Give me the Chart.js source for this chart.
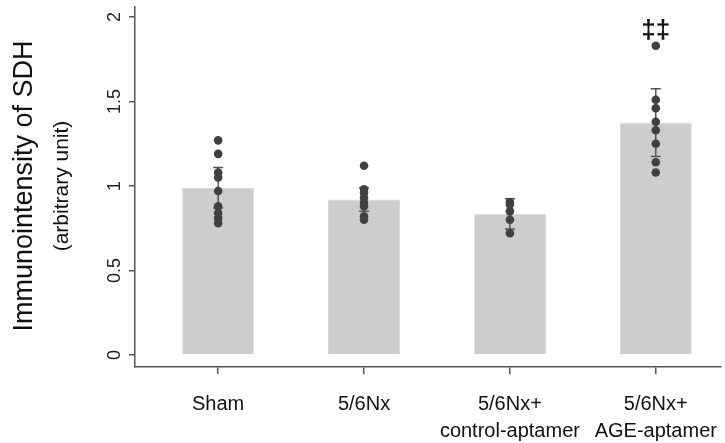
<!DOCTYPE html>
<html>
<head>
<meta charset="utf-8">
<script src="https://cdn.jsdelivr.net/npm/chart.js@4.4.1/dist/chart.umd.min.js"></script>
<style>
  body{margin:0;background:#fff}
  canvas{display:block}
</style>
</head>
<body>
<canvas id="sdh" width="725" height="443"></canvas>
<script>
const groupLabels=[['Sham'],['5/6Nx'],['5/6Nx+','control-aptamer'],['5/6Nx+','AGE-aptamer']]
const means=[0.99,0.92,0.835,1.375]
const sds=[0.12,0.07,0.09,0.20]
const shamDots=[1.27,1.19,1.08,1.05,0.97,0.88,0.84,0.81,0.78]
const nxDots=[1.12,0.98,0.96,0.93,0.90,0.88,0.82,0.80]
const ctrlDots=[0.905,0.89,0.85,0.80,0.72]
const ageDots=[1.83,1.51,1.46,1.38,1.33,1.25,1.14,1.08]
const sigMarks=['','','','‡‡']
const sigLevel=1.92
const yTicks=[0,0.5,1,1.5,2]

const FONT='"Liberation Sans", Arial, sans-serif'
const axisColor='#555'
const dotColor='#404040'

function dots(values,i){
    return values.map(v=>({x:i,y:v}))
}

// whiskers go under the dots but over the bar
const errorBars={
    id:'errorBars',
    afterDatasetDraw(chart,args){
        if(args.index!==4) return
        const ctx=chart.ctx
        const xs=chart.scales.x
        const ys=chart.scales.y
        ctx.save()
        ctx.strokeStyle=axisColor
        ctx.lineWidth=1.5
        means.forEach((m,i)=>{
            const x=xs.getPixelForValue(i)
            const top=ys.getPixelForValue(m+sds[i])
            const bot=ys.getPixelForValue(m-sds[i])
            ctx.beginPath()
            ctx.moveTo(x,top);ctx.lineTo(x,bot)
            ctx.moveTo(x-5,top);ctx.lineTo(x+5,top)
            ctx.moveTo(x-5,bot);ctx.lineTo(x+5,bot)
            ctx.stroke()
        })
        ctx.restore()
    }
}

const extras={
    id:'extras',
    afterDraw(chart){
        const ctx=chart.ctx
        const xs=chart.scales.x
        const ys=chart.scales.y
        ctx.save()
        ctx.fillStyle='#111'
        ctx.textAlign='center'
        ctx.textBaseline='middle'
        ctx.font='bold 26px '+FONT
        sigMarks.forEach((s,i)=>{
            if(s) ctx.fillText(s,xs.getPixelForValue(i),ys.getPixelForValue(sigLevel))
        })
        const mid=(ys.getPixelForValue(0)+ys.getPixelForValue(2))/2
        ctx.translate(25,mid)
        ctx.rotate(-Math.PI/2)
        ctx.font='27px '+FONT
        ctx.fillText('Immunointensity of SDH',0,0)
        ctx.font='21px '+FONT
        ctx.fillText('(arbitrary unit)',0,37)
        ctx.restore()
    }
}

new Chart(document.getElementById('sdh'),{
    type:'bar',
    data:{
        datasets:[
            {type:'scatter',data:dots(shamDots,0)},
            {type:'scatter',data:dots(nxDots,1)},
            {type:'scatter',data:dots(ctrlDots,2)},
            {type:'scatter',data:dots(ageDots,3)},
            {
                data:means.map((m,i)=>({x:i,y:m})),
                backgroundColor:'#cdcdcd',
                borderColor:'#d9d9d9',
                borderWidth:1,
                barPercentage:1,
                categoryPercentage:0.494
            }
        ]
    },
    options:{
        responsive:false,
        animation:false,
        layout:{padding:{top:7,right:0,bottom:0,left:0}},
        elements:{point:{radius:4.3,backgroundColor:dotColor,borderWidth:0,hoverRadius:4.3}},
        plugins:{legend:{display:false},tooltip:{enabled:false}},
        scales:{
            x:{
                type:'linear',
                min:-0.57,
                max:3.445,
                offset:false,
                afterBuildTicks:s=>{s.ticks=[0,1,2,3].map(v=>({value:v}))},
                afterFit:s=>{s.height=76;s.paddingLeft=0;s.paddingRight=0},
                grid:{offset:false,drawOnChartArea:false,drawTicks:true,tickLength:7,color:axisColor,lineWidth:1.5},
                border:{display:true,color:axisColor,width:1.5},
                ticks:{
                    color:'#111',
                    padding:17,
                    maxRotation:0,
                    autoSkip:false,
                    font:{family:FONT,size:20,lineHeight:1.35},
                    callback:(v,i)=>groupLabels[i]
                }
            },
            y:{
                type:'linear',
                min:-0.071,
                max:2.059,
                afterBuildTicks:s=>{s.ticks=yTicks.map(v=>({value:v}))},
                afterFit:s=>{s.width=135;s.paddingTop=0;s.paddingBottom=0},
                grid:{drawOnChartArea:false,drawTicks:true,tickLength:6,color:axisColor,lineWidth:1.5},
                border:{display:true,color:axisColor,width:1.5},
                ticks:{
                    color:'#222',
                    padding:1,
                    minRotation:90,
                    maxRotation:90,
                    crossAlign:'center',
                    font:{family:FONT,size:18},
                    callback:v=>String(v)
                }
            }
        }
    },
    plugins:[errorBars,extras]
})
</script>
</body>
</html>
